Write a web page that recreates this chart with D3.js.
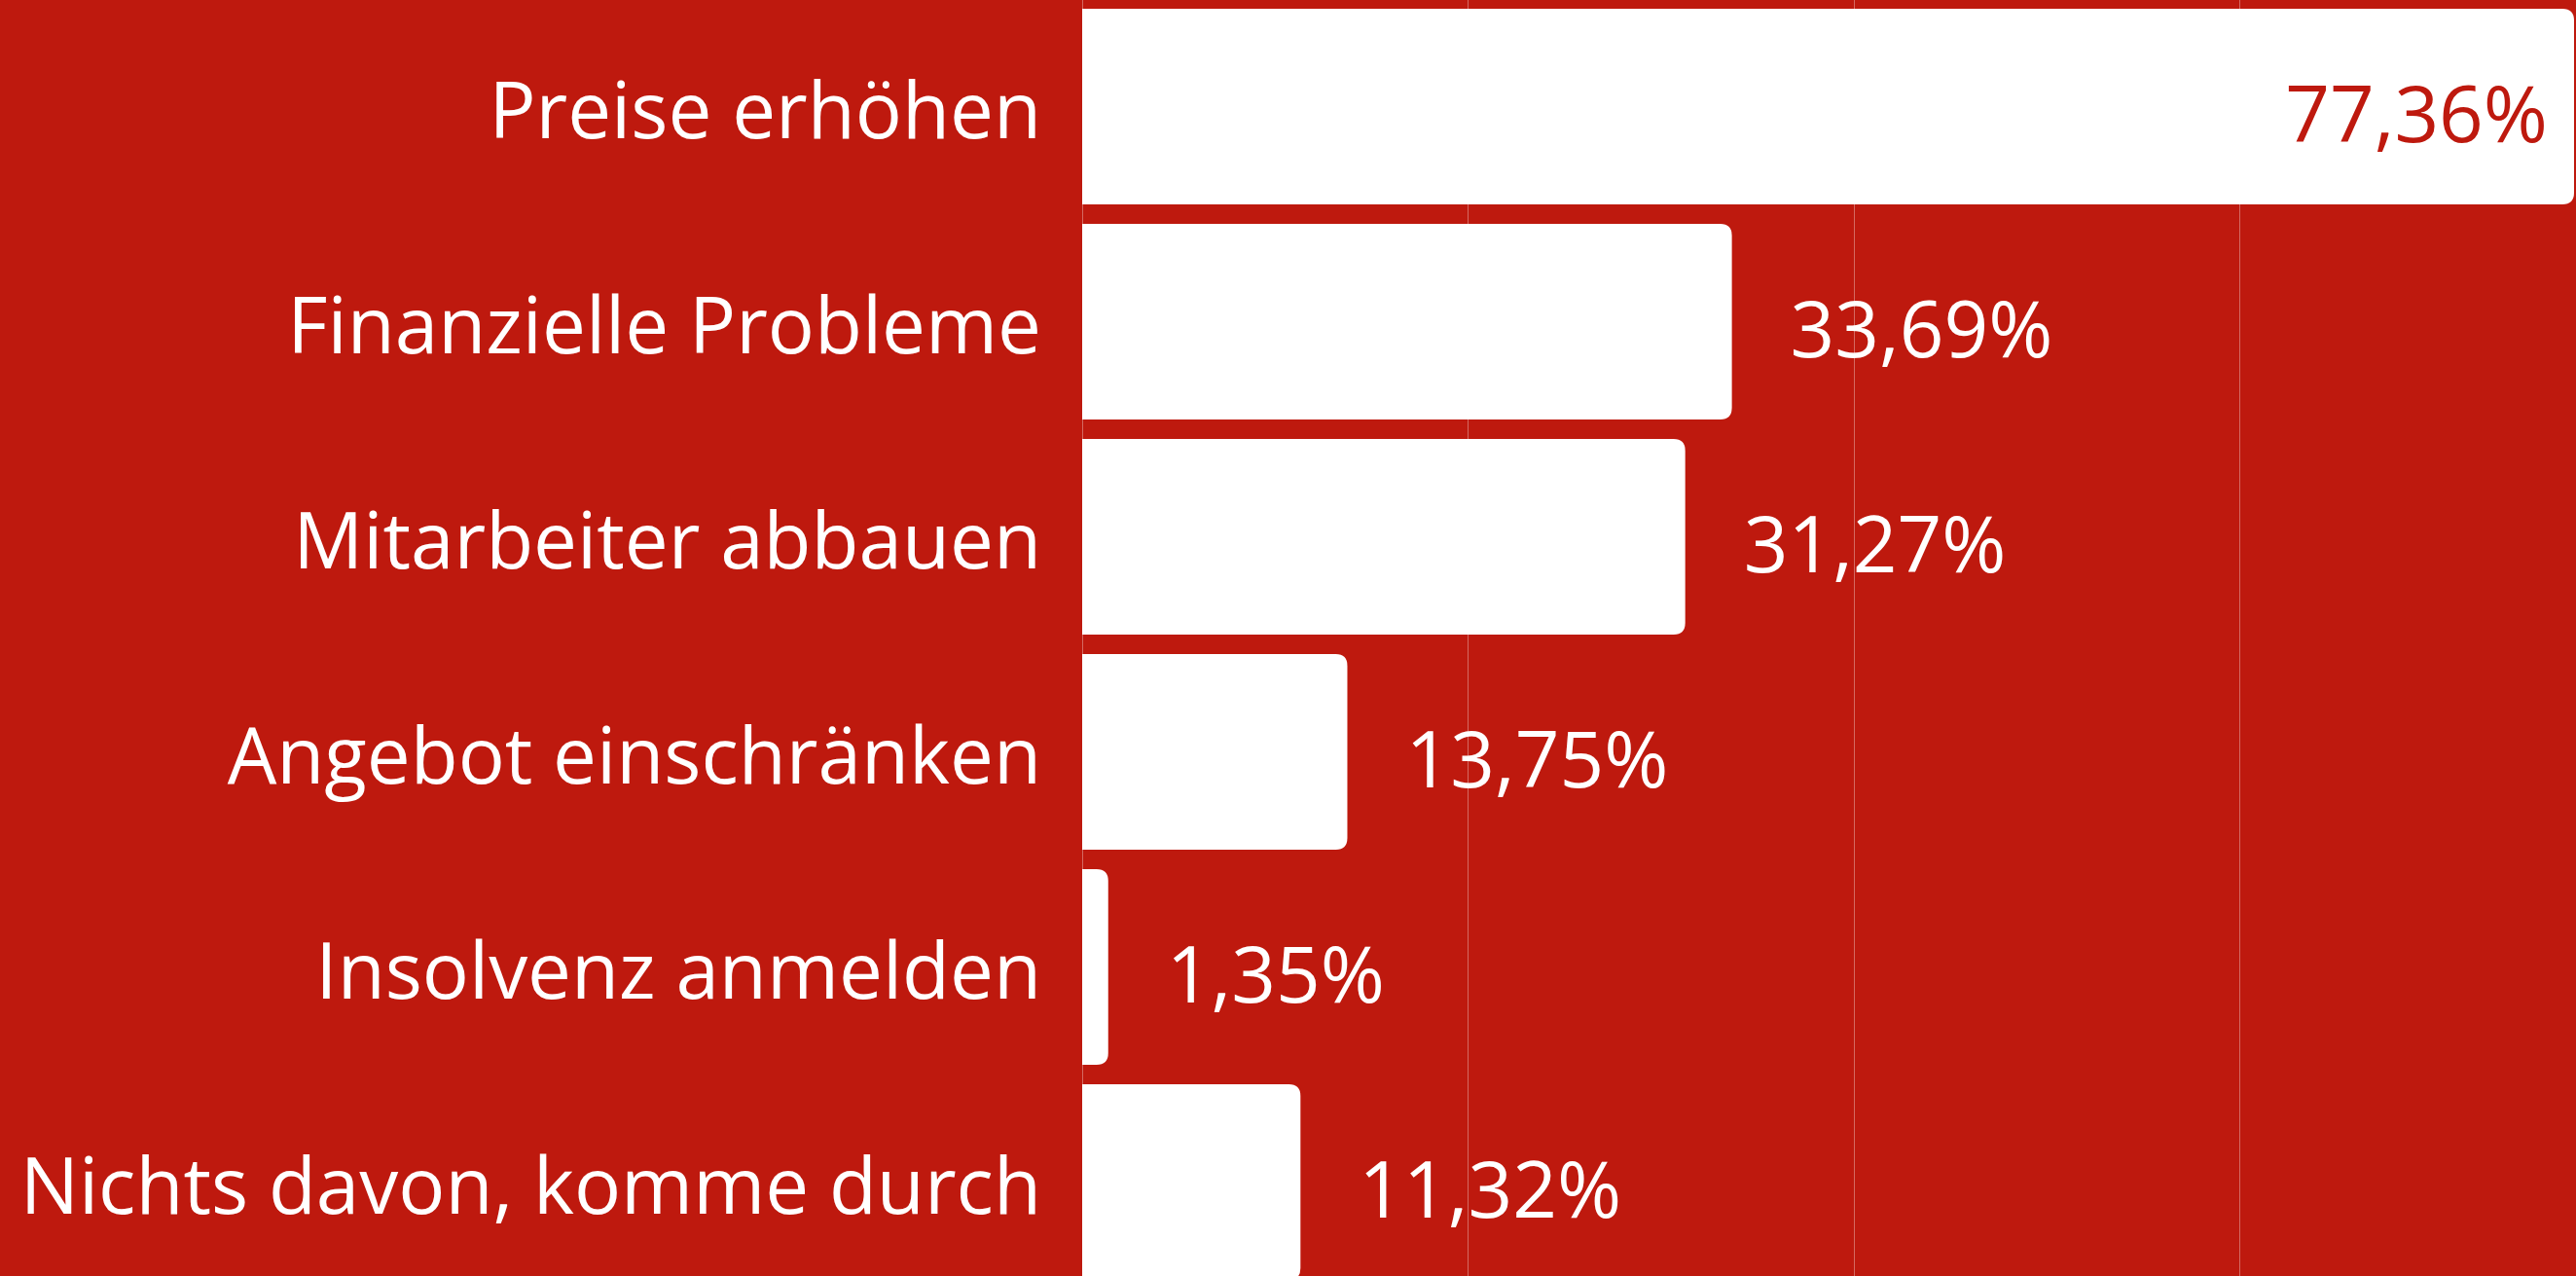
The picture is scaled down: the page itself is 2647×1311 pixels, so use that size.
<!DOCTYPE html>
<html>
<head>
<meta charset="utf-8">
<script src="https://cdn.jsdelivr.net/npm/d3@7"></script>
<style>
	html, body { margin: 0; padding: 0; background: #be190e; overflow: hidden; }
	svg { display: block; }
</style>
</head>
<body>
<svg id="chart"></svg>
<script>
var categories = ["Preise erhöhen", "Finanzielle Probleme", "Mitarbeiter abbauen", "Angebot einschränken", "Insolvenz anmelden", "Nichts davon, komme durch"];
var values = [77.36, 33.69, 31.27, 13.75, 1.35, 11.32];
var gridTicks = [20, 40, 60];

var width = 2647, height = 1311;
var red = "#be190e";

var svg = d3.select("#chart").attr("width", width).attr("height", height);
svg.append("rect").attr("width", width).attr("height", height).attr("fill", red);

var x = d3.scaleLinear().domain([0, d3.max(values)]).range([1112, 2645]);
var y = d3.scaleBand().domain(categories).range([-1, 1325])
	.paddingInner(20 / 221).paddingOuter(10 / 221);

// grid lines
var grid = svg.append("g").attr("class", "grid");
grid.selectAll("line").data([0].concat(gridTicks)).enter().append("line")
	.attr("x1", function(d) { return Math.round(x(d)) + 0.5; })
	.attr("x2", function(d) { return Math.round(x(d)) + 0.5; })
	.attr("y1", 0).attr("y2", height)
	.attr("stroke", "rgba(255,255,255,0.35)").attr("stroke-width", 1);

// bars, rounded on the right side only
function barPath(d, i) {
	var x0 = x(0), x1 = x(d), y0 = y(categories[i]), h = y.bandwidth();
	var r = Math.min(12, (x1 - x0) / 2);
	return "M" + x0 + "," + y0 +
		"H" + (x1 - r) +
		"Q" + x1 + "," + y0 + " " + x1 + "," + (y0 + r) +
		"V" + (y0 + h - r) +
		"Q" + x1 + "," + (y0 + h) + " " + (x1 - r) + "," + (y0 + h) +
		"H" + x0 + "Z";
}
svg.append("g").selectAll("path").data(values).enter().append("path")
	.attr("d", barPath)
	.attr("fill", "#ffffff");

// category labels
svg.append("g").selectAll("text").data(categories).enter().append("text")
	.attr("x", 1070)
	.attr("y", function(d) { return y(d) + y.bandwidth() / 2 + 32; })
	.attr("text-anchor", "end")
	.attr("fill", "#ffffff")
	.style("font-family", "'Open Sans', sans-serif")
	.style("font-size", "80px")
	.text(function(d) { return d; });

// value labels
var fmt = function(v) { return v.toFixed(2).replace(".", ",") + "%"; };
svg.append("g").selectAll("text").data(values).enter().append("text")
	.attr("x", function(d) { return d > 60 ? x(d) - 27 : x(d) + 60; })
	.attr("y", function(d, i) { return y(categories[i]) + y.bandwidth() / 2 + 36; })
	.attr("text-anchor", function(d) { return d > 60 ? "end" : "start"; })
	.attr("fill", function(d) { return d > 60 ? red : "#ffffff"; })
	.style("font-family", "'Open Sans', sans-serif")
	.style("font-size", "80px")
	.text(fmt);
</script>
</body>
</html>
